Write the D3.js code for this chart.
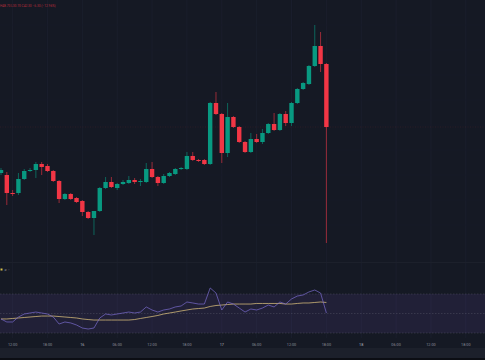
<!DOCTYPE html>
<html>
<head>
<meta charset="utf-8">
<script src="https://cdn.jsdelivr.net/npm/d3@7"></script>
<style>
  html, body { margin: 0; padding: 0; background: #151924; }
  svg { display: block; }
</style>
</head>
<body>
<svg id="chart" width="485" height="360"></svg>
<script>
// ---- data (hourly candles) ----
const opens  = [37.7,37.5,35.7,35.7,37.1,37.9,38.0,38.6,38.4,37.9,36.9,35.1,35.6,35.2,34.9,33.8,33.2,33.9,36.2,36.8,36.2,36.6,36.7,37.0,36.8,36.8,38.1,37.3,36.7,37.4,37.6,38.1,38.1,39.4,39.0,39.0,38.6,44.7,43.6,39.7,43.3,42.3,40.8,39.8,41.1,40.8,41.7,42.6,42.0,43.6,42.7,44.7,46.1,46.6,48.4,50.4,48.6];
const highs  = [38.2,37.8,36.0,37.7,38.1,38.2,38.8,38.8,38.6,38.0,37.0,35.7,35.7,35.3,35.0,33.9,33.9,36.3,37.3,37.3,36.7,37.0,37.4,37.2,37.1,38.7,38.8,37.4,37.6,37.8,38.2,38.3,39.8,39.8,39.1,39.1,44.8,45.8,43.7,44.7,43.4,42.4,40.9,41.7,41.6,42.1,42.7,43.7,43.7,43.9,44.8,46.2,46.8,48.5,52.5,51.8,48.7];
const lows   = [37.5,34.5,35.4,35.5,37.0,37.8,37.2,37.5,37.8,36.8,34.7,35.0,35.0,34.7,33.4,33.1,31.5,33.8,36.1,36.2,36.0,36.5,36.6,36.6,36.4,36.7,37.2,36.4,36.6,37.3,37.5,38.0,38.0,38.9,38.8,38.5,38.5,43.5,38.7,39.3,42.2,40.7,39.7,39.7,40.7,40.6,41.6,41.9,41.9,42.4,42.4,44.6,46.0,46.5,48.3,47.8,30.7];
const closes = [38.0,35.7,35.6,37.1,37.9,38.0,38.6,38.3,37.9,36.9,35.1,35.6,35.1,34.8,33.8,33.2,33.9,36.2,36.8,36.3,36.6,36.8,37.0,36.8,36.9,38.1,37.3,36.7,37.4,37.7,38.1,38.2,39.4,39.0,38.9,38.6,44.7,43.6,39.7,43.3,42.3,40.8,39.8,41.1,40.8,41.7,42.6,42.0,43.6,42.7,44.7,46.1,46.7,48.4,50.4,48.6,42.3];
const rsiValues = [44.4,41.3,41.3,46.4,49.5,50.5,51.5,50.5,49.5,46.4,39.2,41.3,40.3,38.2,35.1,34.1,35.1,45.4,49.5,48.5,49.5,50.5,51.5,50.5,51.5,56.7,53.6,51.5,53.6,54.6,56.7,57.7,61.8,60.8,59.7,59.7,76.2,71.0,53.6,61.8,59.7,55.6,51.5,54.6,53.6,55.6,58.7,56.7,61.8,59.7,64.9,67.9,69.0,72.1,74.1,71.0,50.5];
const rsiMA = [44.4,44.4,44.9,45.4,45.9,46.4,46.9,47.4,47.4,47.4,46.9,46.4,45.9,45.4,44.4,43.8,43.3,43.3,43.3,43.3,43.3,43.3,43.3,43.8,44.9,45.9,46.9,48.0,49.5,50.5,51.5,52.6,53.6,54.6,55.1,55.6,57.2,58.2,58.7,59.2,59.7,59.7,59.7,59.7,60.3,60.3,60.3,60.3,60.3,59.7,59.7,60.3,60.8,60.8,61.3,61.8,61.3];
const timeLabels = ["12:00","18:00","16","06:00","12:00","18:00","17","06:00","12:00","18:00","18","06:00","12:00","18:00"];
const timeLabelIndex = [2,8,14,20,26,32,38,44,50,56,62,68,74,80];
const rsiLevels = [70, 50, 30];
const legendText = "H48.70 L30.70 C42.30 −6.30 (−12.96%)";

// ---- layout ----
const W = 485, H = 360;
const svg = d3.select("#chart");
const bg = "#151924";
const up = "#089981", down = "#f23645";

const x = d3.scaleLinear().domain([0, 83.3]).range([1, W]);
const y = d3.scaleLinear().domain([30, 55]).range([250, 0]);
const yr = d3.scaleLinear().domain([30, 70]).range([333, 294]);

svg.append("rect").attr("width", W).attr("height", H).attr("fill", bg);

// grid
const grid = svg.append("g");
grid.selectAll("line.v").data(timeLabelIndex).join("line")
  .attr("x1", d => x(d)).attr("x2", d => x(d))
  .attr("y1", 0).attr("y2", 338)
  .attr("stroke", "#1c202e").attr("stroke-width", 0.8);
grid.selectAll("line.h").data(d3.range(32.5, 55, 2.5)).join("line")
  .attr("x1", 0).attr("x2", W)
  .attr("y1", d => y(d)).attr("y2", d => y(d))
  .attr("stroke", "#191d29").attr("stroke-width", 0.6);

// pane separator
svg.append("line").attr("x1", 0).attr("x2", W).attr("y1", 262.5).attr("y2", 262.5)
  .attr("stroke", "#1c202b").attr("stroke-width", 1);

// candles
const data = opens.map((o, i) => ({i, o, h: highs[i], l: lows[i], c: closes[i]}));
const bw = 4.4;
const cg = svg.append("g");
cg.selectAll("line.wick").data(data).join("line")
  .attr("x1", d => x(d.i)).attr("x2", d => x(d.i))
  .attr("y1", d => y(d.h)).attr("y2", d => y(d.l))
  .attr("stroke", d => d.c >= d.o ? up : down)
  .attr("stroke-width", 0.7).attr("stroke-opacity", 0.85);
cg.selectAll("rect.body").data(data).join("rect")
  .attr("x", d => x(d.i) - bw / 2)
  .attr("width", bw)
  .attr("y", d => y(Math.max(d.o, d.c)))
  .attr("height", d => Math.max(1, Math.abs(y(d.o) - y(d.c))))
  .attr("fill", d => d.c >= d.o ? up : down);

// last price line
const last = closes[closes.length - 1];
svg.append("line").attr("x1", 0).attr("x2", W).attr("y1", y(last)).attr("y2", y(last))
  .attr("stroke", down).attr("stroke-opacity", 0.18).attr("stroke-width", 0.6)
  .attr("stroke-dasharray", "1,1.5");

// legend top-left
svg.append("text").attr("x", 0).attr("y", 6.5)
  .attr("font-family", "Roboto, 'DejaVu Sans', sans-serif")
  .attr("font-size", 3.2).attr("fill", down).attr("fill-opacity", 0.7)
  .text(legendText);

// RSI pane
svg.append("rect").attr("x", 0).attr("width", W)
  .attr("y", yr(70)).attr("height", yr(30) - yr(70))
  .attr("fill", "#7e57c2").attr("fill-opacity", 0.12);
svg.selectAll("line.lvl").data(rsiLevels).join("line")
  .attr("x1", 0).attr("x2", W)
  .attr("y1", d => yr(d)).attr("y2", d => yr(d))
  .attr("stroke", "#787b86").attr("stroke-opacity", 0.45).attr("stroke-width", 0.6)
  .attr("stroke-dasharray", "1.5,1.5");

const lineR = d3.line().x((d, i) => x(i)).y(d => yr(d)).curve(d3.curveLinear);
svg.append("path").datum(rsiMA).attr("d", lineR)
  .attr("fill", "none").attr("stroke", "#e3c77f").attr("stroke-width", 0.8).attr("stroke-opacity", 0.9);
svg.append("path").datum(rsiValues).attr("d", lineR)
  .attr("fill", "none").attr("stroke", "#7e6fd6").attr("stroke-width", 0.7).attr("stroke-opacity", 0.95);

// RSI legend
svg.append("rect").attr("x", 0.5).attr("y", 268.5).attr("width", 2).attr("height", 2).attr("fill", "#d6c04a");
svg.append("text").attr("x", 4.5).attr("y", 271)
  .attr("font-family", "'DejaVu Sans', sans-serif").attr("font-size", 3.5)
  .attr("fill", "#787b86").text("ø ◦");

// time axis
svg.append("rect").attr("x", 0).attr("y", 348).attr("width", W).attr("height", 10).attr("fill", "#1c202b");
svg.append("rect").attr("x", 0).attr("y", 358).attr("width", W).attr("height", 2).attr("fill", "#0c0e14");
svg.selectAll("text.tl").data(timeLabels).join("text")
  .attr("x", (d, i) => x(timeLabelIndex[i]))
  .attr("y", 345.5)
  .attr("text-anchor", "middle")
  .attr("font-family", "Roboto, 'DejaVu Sans', sans-serif")
  .attr("font-size", 3.8)
  .attr("fill", d => d.length <= 2 ? "#b0b3bc" : "#8a8e99")
  .text(d => d);
</script>
</body>
</html>
